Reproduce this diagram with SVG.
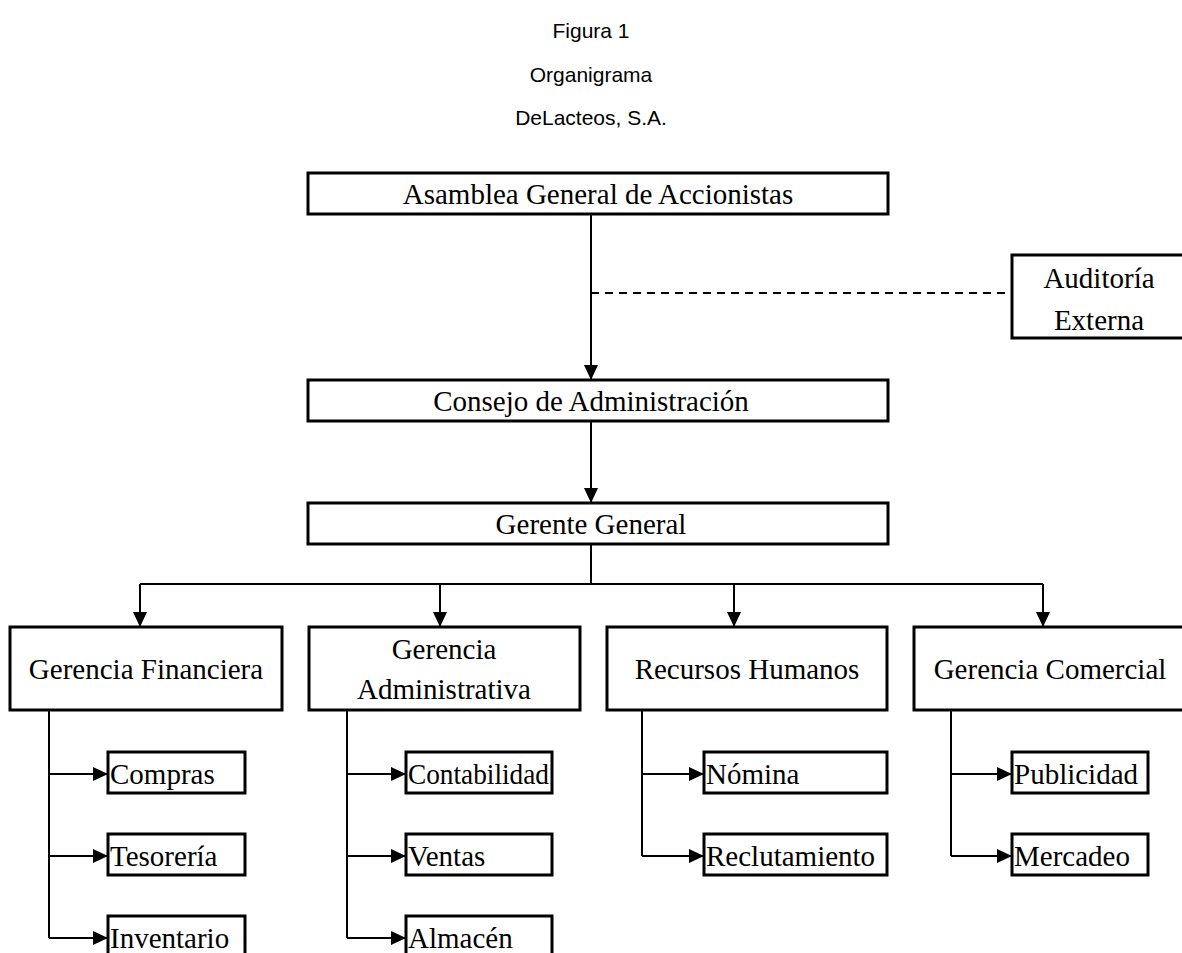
<svg xmlns="http://www.w3.org/2000/svg" width="1182" height="953" viewBox="0 0 1182 953">
<style>
.box{fill:#fff;stroke:#000;stroke-width:3}
.t{font-family:"Liberation Serif","Times New Roman",serif;font-size:29px;fill:#000}
.c{text-anchor:middle}
.title{font-family:"Liberation Sans",Arial,sans-serif;font-size:21px;fill:#000;text-anchor:middle}
.ln{fill:none;stroke:#000;stroke-width:2}
.dash{fill:none;stroke:#000;stroke-width:2;stroke-dasharray:8 6}
</style>
<defs>
<marker id="ah" markerUnits="userSpaceOnUse" markerWidth="15" markerHeight="14" viewBox="0 0 15 14" refX="15" refY="7" orient="auto">
<path d="M0,0 L15,7 L0,14 Z" fill="#000"/>
</marker>
</defs>
<rect width="1182" height="953" fill="#fff"/>
<g id="titles">
<text class="title" x="591" y="38">Figura 1</text>
<text class="title" x="591" y="82">Organigrama</text>
<text class="title" x="591" y="125">DeLacteos, S.A.</text>
</g>
<g id="connectors">
<line class="ln" x1="591" y1="214" x2="591" y2="380" marker-end="url(#ah)"/>
<line class="dash" x1="591" y1="293" x2="1012" y2="293"/>
<line class="ln" x1="591" y1="421" x2="591" y2="503" marker-end="url(#ah)"/>
<line class="ln" x1="591" y1="544" x2="591" y2="584"/>
<line class="ln" x1="140" y1="584" x2="1043" y2="584"/>
<line class="ln" x1="140" y1="584" x2="140" y2="627" marker-end="url(#ah)"/>
<line class="ln" x1="440" y1="584" x2="440" y2="627" marker-end="url(#ah)"/>
<line class="ln" x1="734" y1="584" x2="734" y2="627" marker-end="url(#ah)"/>
<line class="ln" x1="1043" y1="584" x2="1043" y2="627" marker-end="url(#ah)"/>
<path class="ln" d="M49,710 V938"/>
<line class="ln" x1="49" y1="774" x2="108" y2="774" marker-end="url(#ah)"/>
<line class="ln" x1="49" y1="856" x2="108" y2="856" marker-end="url(#ah)"/>
<line class="ln" x1="49" y1="938" x2="108" y2="938" marker-end="url(#ah)"/>
<path class="ln" d="M347,710 V938"/>
<line class="ln" x1="347" y1="774" x2="406" y2="774" marker-end="url(#ah)"/>
<line class="ln" x1="347" y1="856" x2="406" y2="856" marker-end="url(#ah)"/>
<line class="ln" x1="347" y1="938" x2="406" y2="938" marker-end="url(#ah)"/>
<path class="ln" d="M642,705 V856"/>
<line class="ln" x1="642" y1="774" x2="704" y2="774" marker-end="url(#ah)"/>
<line class="ln" x1="642" y1="856" x2="704" y2="856" marker-end="url(#ah)"/>
<path class="ln" d="M951,710 V856"/>
<line class="ln" x1="951" y1="774" x2="1012" y2="774" marker-end="url(#ah)"/>
<line class="ln" x1="951" y1="856" x2="1012" y2="856" marker-end="url(#ah)"/>
</g>
<g id="asamblea"><rect class="box" x="308" y="173" width="580" height="41"/><text class="t c" x="598" y="204">Asamblea General de Accionistas</text></g>
<g id="auditoria"><rect class="box" x="1012" y="255" width="180" height="83"/><text class="t c" x="1099" y="288">Auditoría</text><text class="t c" x="1099" y="330">Externa</text></g>
<g id="consejo"><rect class="box" x="308" y="380" width="580" height="41"/><text class="t c" x="591" y="411">Consejo de Administración</text></g>
<g id="gerente"><rect class="box" x="308" y="503" width="580" height="41"/><text class="t c" x="591" y="534">Gerente General</text></g>
<g id="gfin"><rect class="box" x="10" y="627" width="272" height="83"/><text class="t c" x="146" y="679">Gerencia Financiera</text></g>
<g id="gadm"><rect class="box" x="309" y="627" width="271" height="83"/><text class="t c" x="444" y="659">Gerencia</text><text class="t c" x="444" y="699">Administrativa</text></g>
<g id="rrhh"><rect class="box" x="607" y="627" width="280" height="83"/><text class="t c" x="747" y="679">Recursos Humanos</text></g>
<g id="gcom"><rect class="box" x="914" y="627" width="275" height="83"/><text class="t c" x="1050" y="679">Gerencia Comercial</text></g>
<g id="compras"><rect class="box" x="108" y="752" width="137" height="41"/><text class="t" x="110" y="784">Compras</text></g>
<g id="tesoreria"><rect class="box" x="108" y="834" width="137" height="41"/><text class="t" x="110" y="866">Tesorería</text></g>
<g id="inventario"><rect class="box" x="108" y="916" width="137" height="41"/><text class="t" x="110" y="948">Inventario</text></g>
<g id="contabilidad"><rect class="box" x="406" y="752" width="146" height="41"/><text class="t" x="408" y="784" textLength="141" lengthAdjust="spacingAndGlyphs">Contabilidad</text></g>
<g id="ventas"><rect class="box" x="406" y="834" width="146" height="41"/><text class="t" x="408" y="866">Ventas</text></g>
<g id="almacen"><rect class="box" x="406" y="916" width="146" height="41"/><text class="t" x="408" y="948">Almacén</text></g>
<g id="nomina"><rect class="box" x="704" y="752" width="183" height="41"/><text class="t" x="706" y="784">Nómina</text></g>
<g id="reclutamiento"><rect class="box" x="704" y="834" width="183" height="41"/><text class="t" x="706" y="866">Reclutamiento</text></g>
<g id="publicidad"><rect class="box" x="1012" y="752" width="136" height="41"/><text class="t" x="1014" y="784">Publicidad</text></g>
<g id="mercadeo"><rect class="box" x="1012" y="834" width="136" height="41"/><text class="t" x="1014" y="866">Mercadeo</text></g>
</svg>
